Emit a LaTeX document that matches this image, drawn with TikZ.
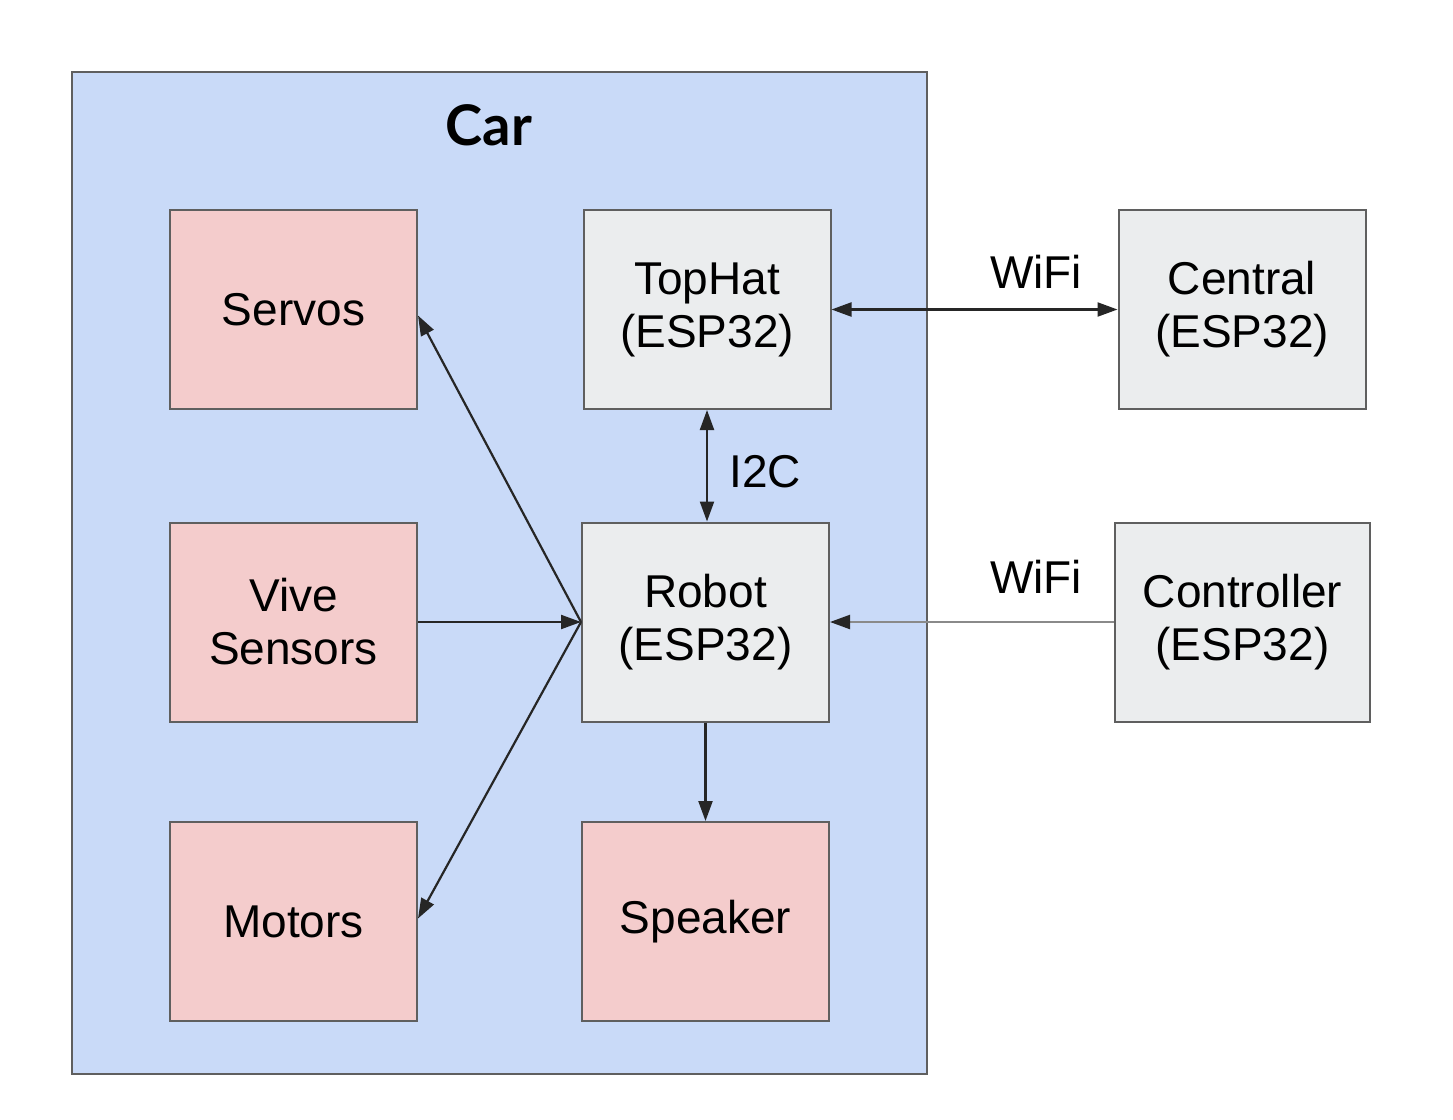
\documentclass[tikz,border=0pt]{standalone}
\usepackage{fontspec}
\setmainfont{Liberation Sans}
\newfontfamily\titlefont{Lato}
\usetikzlibrary{arrows.meta}
\definecolor{carblue}{HTML}{C9DAF8}
\definecolor{pinkbox}{HTML}{F4CCCC}
\definecolor{greybox}{HTML}{EBEDEE}
\definecolor{edgegrey}{HTML}{5F5F5F}
\definecolor{linegrey}{HTML}{8A8A8A}
\tikzset{
  blk/.style={draw=edgegrey, line width=1pt, minimum width=123.5pt, minimum height=99.5pt,
    align=center, inner sep=0pt, font=\fontsize{23}{26.5}\selectfont},
  pinkblk/.style={blk, fill=pinkbox},
  greyblk/.style={blk, fill=greybox},
  conn/.style={line width=1.1pt, draw=black!85, -{Triangle[length=10pt,width=7pt]}},
  biconn/.style={line width=1.1pt, draw=black!85, {Triangle[length=10pt,width=7pt]}-{Triangle[length=10pt,width=7pt]}},
  lbl/.style={font=\fontsize{23}{26.5}\selectfont, inner sep=0pt}
}
\begin{document}
\begin{tikzpicture}[x=0.5pt,y=-0.5pt]
\useasboundingbox (0,0) rectangle (1453,1120);
\fill[white] (0,0) rectangle (1453,1120);
\node[draw=edgegrey, fill=carblue, line width=1pt, minimum width=427.5pt, minimum height=501pt, inner sep=0pt] (car) at (499.5,573) {};
\node[font=\titlefont\bfseries\fontsize{28}{32}\selectfont, inner sep=0pt] (cartitle) at (489,125) {Car};
\node[pinkblk] (servos) at (293.5,309.5) {Servos};
\node[pinkblk] (vive) at (293.5,622) {Vive\\Sensors};
\node[pinkblk] (motors) at (293.5,921.5) {Motors};
\node[greyblk] (tophat) at (707,309.5) {TopHat\\(ESP32)};
\node[greyblk] (robot) at (705.5,622) {Robot\\(ESP32)};
\node[pinkblk] (speaker) at (705.5,921.5) {Speaker};
\node[greyblk] (central) at (1242,309.5) {Central\\(ESP32)};
\node[greyblk, minimum width=127.5pt] (controller) at (1242.5,622) {Controller\\(ESP32)};
\draw[biconn] (tophat.east) -- (central.west);
\node[lbl] (wifi1) at (1036,272) {WiFi};
\draw[biconn] (tophat.south) -- (robot.north -| tophat.south);
\node[lbl] (i2c) at (765,472) {I2C};
\draw[conn] (robot.south) -- (speaker.north);
\draw[line width=1.1pt, draw=linegrey, -{Triangle[length=10pt,width=7pt,color=black!85]}] (controller.west) -- (robot.east);
\node[lbl] (wifi2) at (1036,577) {WiFi};
\draw[conn] (vive.east) -- (robot.west);
\draw[conn] (robot.west) -- ([yshift=-3pt]servos.east);
\draw[conn] (robot.west) -- ([yshift=1.5pt]motors.east);
\end{tikzpicture}
\end{document}
